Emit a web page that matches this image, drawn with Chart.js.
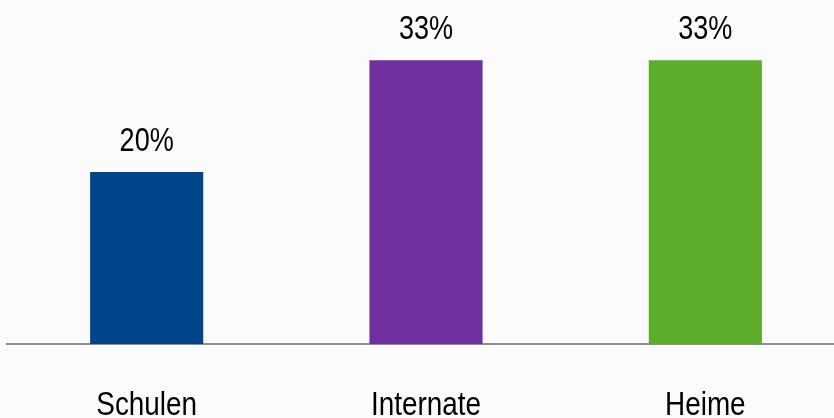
<!DOCTYPE html>
<html>
<head>
<meta charset="utf-8">
<script src="https://cdn.jsdelivr.net/npm/chart.js@4"></script>
<style>
  html, body { margin: 0; padding: 0; background: #fbfbfb; overflow: hidden; }
  #box { width: 845px; height: 418px; }
</style>
</head>
<body>
<div id="box"><canvas id="share-chart"></canvas></div>
<script>
const categories = ['Schulen', 'Internate', 'Heime'];
const shares = [20, 33, 33];
const barColors = ['#00458a', '#7030a0', '#5cad2a'];

const fontName = '"Liberation Sans", Arial, sans-serif';
const squeeze = 0.82; // the original uses a narrow face

function narrowText(ctx, text, x, y) {
    ctx.save();
    ctx.translate(x, y);
    ctx.scale(squeeze, 1);
    ctx.fillText(text, 0, 0);
    ctx.restore();
}

// percentages above the bars and category names under the axis
const textLabels = {
    id: 'textLabels',
    afterDatasetsDraw(chart) {
        let ctx = chart.ctx;
        let xScale = chart.scales.x;
        ctx.save();
        ctx.fillStyle = '#000';
        ctx.textAlign = 'center';
        ctx.textBaseline = 'alphabetic';
        ctx.font = '33px ' + fontName;
        chart.getDatasetMeta(0).data.forEach((bar, i) => {
            narrowText(ctx, shares[i] + '%', bar.x, bar.y - 21);
        });
        ctx.font = '34px ' + fontName;
        categories.forEach((name, i) => {
            narrowText(ctx, name, xScale.getPixelForValue(i), xScale.bottom + 71);
        });
        ctx.restore();
    }
};

let shareChart = new Chart(document.getElementById('share-chart').getContext('2d'), {
    type: 'bar',
    data: {
        labels: categories,
        datasets: [{
            data: shares,
            backgroundColor: barColors,
            borderWidth: 0,
            barPercentage: 0.405,
            categoryPercentage: 1
        }]
    },
    options: {
        responsive: true,
        maintainAspectRatio: false,
        animation: false,
        layout: { padding: { left: 7, right: 0, top: 0, bottom: 74 } },
        plugins: { legend: { display: false }, tooltip: { enabled: false } },
        scales: {
            x: {
                grid: { display: false, drawTicks: false },
                border: { color: '#8f8f8f', width: 2 },
                ticks: { display: false }
            },
            y: {
                display: false,
                min: 0,
                max: 40
            }
        }
    },
    plugins: [textLabels]
});
</script>
</body>
</html>
